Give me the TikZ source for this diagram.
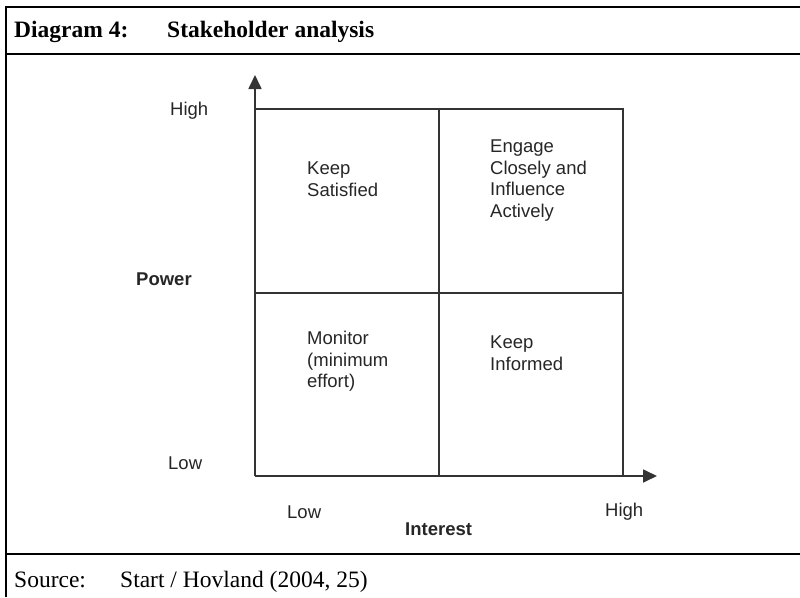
\documentclass[tikz,border=0pt]{standalone}
\usepackage{fontspec}
\setmainfont{Liberation Serif}
\newfontfamily\arialfont{Liberation Sans}
\usetikzlibrary{arrows.meta}

\begin{document}
\begin{tikzpicture}[x=1pt,y=-1pt,
	frame/.style={line width=2pt},
	gridline/.style={line width=1.7pt,black!80},
	axis/.style={gridline,-{Triangle[length=14pt,width=13pt]}},
	lbl/.style={font=\arialfont\fontsize{18.5}{21.5}\selectfont,text=black!85,inner sep=0pt,anchor=west},
	axisname/.style={lbl,font=\arialfont\bfseries\fontsize{18.5}{21.5}\selectfont},
	quad/.style={lbl,align=left,anchor=north west},
	ttl/.style={font=\fontsize{23.5}{27}\selectfont,inner sep=0pt,anchor=base west}]
	\useasboundingbox (0,0) rectangle (800,597);
	% frame of the box
	\draw[frame] (800,7)--(6,7)--(6,597);
	\draw[frame] (6,54)--(800,54);
	\draw[frame] (6,554)--(112,554);
	\draw[line width=1.3pt] (112,554)--(690,554);
	\draw[frame] (690,554)--(800,554);
	\node[ttl,font=\bfseries\fontsize{23.5}{27}\selectfont] (diag) at (14,37) {Diagram 4:};
	\node[ttl,font=\bfseries\fontsize{23.5}{27}\selectfont] (stake) at (167,37) {Stakeholder analysis};
	\node[ttl] (src) at (14,587) {Source:};
	\node[ttl] (ref) at (120,587) {Start / Hovland (2004, 25)};
	% grid
	\coordinate (O) at (255,476);
	\coordinate (ytip) at (255,75);
	\coordinate (xtip) at (657,476);
	\coordinate (tl) at (255,109);
	\coordinate (tr) at (623,109);
	\coordinate (br) at (623,476);
	\coordinate (mt) at (439,109);
	\coordinate (mb) at (439,476);
	\coordinate (ml) at (255,293);
	\coordinate (mr) at (623,293);
	\draw[gridline] (tl)--(tr)--(br);
	\draw[gridline] (mt)--(mb);
	\draw[gridline] (ml)--(mr);
	\draw[axis] (O)--(ytip);
	\draw[axis] (O)--(xtip);
	% axis labels
	\node[lbl] (yhigh) at (170,111) {High};
	\node[axisname] (power) at (136,279) {Power};
	\node[lbl] (ylow) at (168,463) {Low};
	\node[lbl] (xlow) at (287,512) {Low};
	\node[axisname] (interest) at (405,529) {Interest};
	\node[lbl] (xhigh) at (605,512) {High};
	% quadrants
	\node[quad] (satisfied) at (307,162) {Keep\\Satisfied};
	\node[quad] (engage) at (490,140) {Engage\\Closely and\\Influence\\Actively};
	\node[quad] (monitor) at (307,331) {Monitor\\(minimum\\effort)};
	\node[quad] (informed) at (490,336) {Keep\\Informed};
\end{tikzpicture}
\end{document}
